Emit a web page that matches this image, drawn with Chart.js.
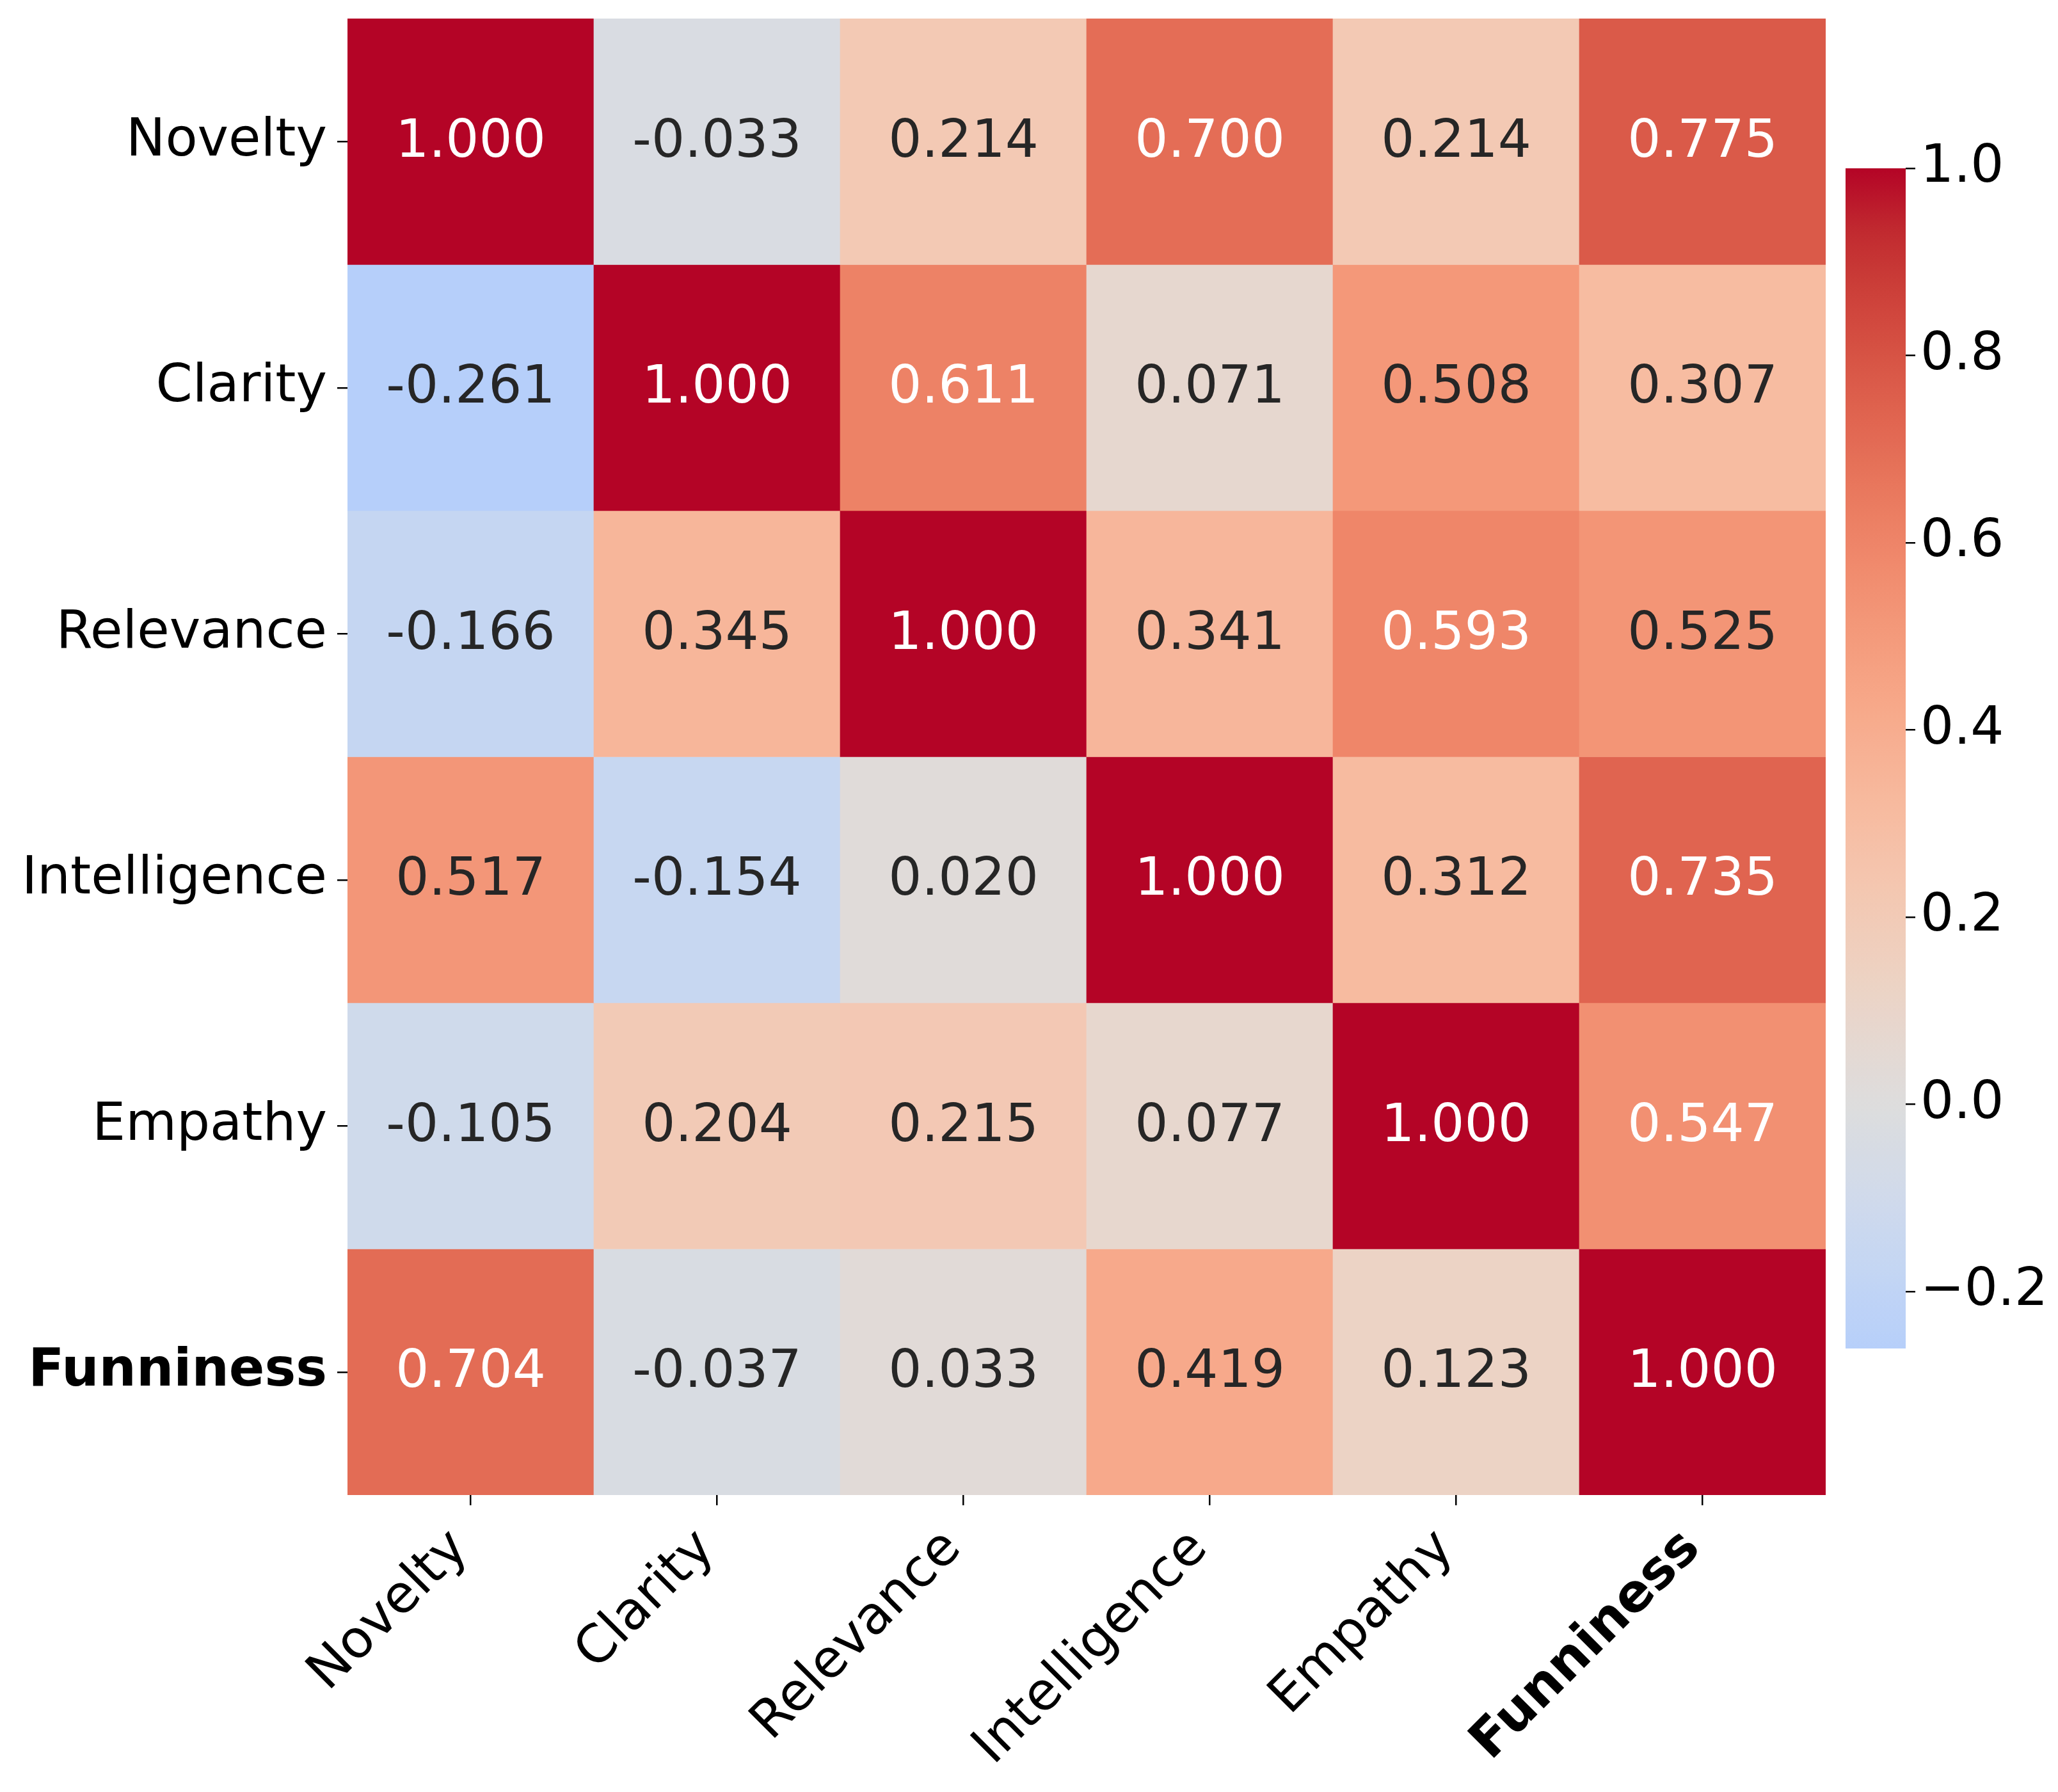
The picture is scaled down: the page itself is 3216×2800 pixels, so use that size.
<!DOCTYPE html>
<html>
<head>
<meta charset="utf-8">
<script src="https://cdn.jsdelivr.net/npm/chart.js@4"></script>
<style>
  html, body { margin: 0; padding: 0; background: #fff; }
  #wrap { position: relative; width: 3216px; height: 2800px; }
  #heat { position: absolute; left: 0; top: 0; width: 3216px; height: 2800px; }
  #cbar { position: absolute; left: 2884px; top: 163px; width: 344px; height: 2044px; }
</style>
</head>
<body>
<div id="wrap">
  <canvas id="heat" width="3216" height="2800"></canvas>
  <canvas id="cbar" width="344" height="2044"></canvas>
</div>
<script>
(function() {

    const names = ['Novelty', 'Clarity', 'Relevance', 'Intelligence', 'Empathy', 'Funniness'];

    // one row of the correlation matrix each
    const novelty      = [ 1.000, -0.033, 0.214, 0.700, 0.214, 0.775];
    const clarity      = [-0.261,  1.000, 0.611, 0.071, 0.508, 0.307];
    const relevance    = [-0.166,  0.345, 1.000, 0.341, 0.593, 0.525];
    const intelligence = [ 0.517, -0.154, 0.020, 1.000, 0.312, 0.735];
    const empathy      = [-0.105,  0.204, 0.215, 0.077, 1.000, 0.547];
    const funniness    = [ 0.704, -0.037, 0.033, 0.419, 0.123, 1.000];

    const cbTicks = [-0.2, 0.0, 0.2, 0.4, 0.6, 0.8, 1.0];

    const matrix = [novelty, clarity, relevance, intelligence, empathy, funniness];
    const vmin = Math.min(...matrix.flat());
    const vmax = Math.max(...matrix.flat());
    const vrange = Math.max(vmax, -vmin);   // centred on 0

    // coolwarm colormap anchors
    const cw = [
        [59,76,192],[68,90,204],[77,104,215],[87,117,225],[98,130,234],[108,142,241],
        [119,154,247],[130,165,251],[141,176,254],[152,185,255],[163,194,255],[174,201,253],
        [184,208,249],[194,213,244],[204,217,238],[213,219,230],[221,221,221],[229,216,209],
        [236,211,197],[241,204,185],[245,196,173],[247,187,160],[247,177,148],[247,166,135],
        [244,154,123],[241,141,111],[236,127,99],[229,112,88],[222,96,77],[213,80,66],
        [203,62,56],[192,40,47],[180,4,38]
    ];

    function coolwarm(t) {
        t = Math.max(0, Math.min(1, t));
        const f = t * (cw.length - 1);
        const i = Math.min(Math.floor(f), cw.length - 2);
        const r = f - i;
        return cw[i].map((c, k) => c + (cw[i + 1][k] - c) * r);
    }

    function cellRgb(v) {
        return coolwarm((v + vrange) / (2 * vrange));
    }

    function css(rgb) {
        return 'rgb(' + rgb.map(Math.round).join(',') + ')';
    }

    function textColor(v) {
        const lin = cellRgb(v).map(x => {
            x = x / 255;
            return x <= 0.03928 ? x / 12.92 : Math.pow((x + 0.055) / 1.055, 2.4);
        });
        const lum = 0.2126 * lin[0] + 0.7152 * lin[1] + 0.0722 * lin[2];
        return lum > 0.408 ? '#262626' : '#ffffff';
    }

    const font = 'DejaVu Sans';
    const labelFont = ctx => ({ family: font, size: 82, weight: ctx.index === 5 ? 'bold' : 'normal' });

    const cellText = {
        id: 'cellText',
        afterDatasetsDraw(chart) {
            const c = chart.ctx;
            c.save();
            c.font = '82px "' + font + '"';
            c.textAlign = 'center';
            c.textBaseline = 'middle';
            chart.data.datasets.forEach((ds, i) => {
                chart.getDatasetMeta(i).data.forEach((bar, j) => {
                    const v = matrix[i][j];
                    const p = bar.getCenterPoint();
                    c.fillStyle = textColor(v);
                    c.fillText(v.toFixed(3), p.x, p.y + 2);
                });
            });
            c.restore();
        }
    };

    new Chart(document.getElementById('heat'), {
        type: 'bar',
        data: {
            labels: names,
            datasets: matrix.map((row, i) => ({
                label: names[i],
                data: row.map(() => 1),
                backgroundColor: row.map(v => css(cellRgb(v))),
                borderWidth: 0,
                barPercentage: 1,
                categoryPercentage: 1
            }))
        },
        options: {
            responsive: false,
            animation: false,
            devicePixelRatio: 1,
            layout: { padding: { top: 29, right: 363, left: 0, bottom: 0 } },
            plugins: { legend: { display: false }, tooltip: { enabled: false } },
            scales: {
                x: {
                    stacked: true,
                    grid: { drawOnChartArea: false, offset: false, tickLength: 16, color: '#000', lineWidth: 2.5 },
                    border: { display: false },
                    ticks: { minRotation: 45, maxRotation: 45, autoSkip: false, padding: 20, labelOffset: -16,
                             color: '#000', font: labelFont },
                    afterFit: s => { s.height = 464; s.paddingLeft = 0; s.paddingRight = 0; }
                },
                y: {
                    type: 'linear',
                    stacked: true,
                    reverse: true,
                    min: 0,
                    max: names.length,
                    afterBuildTicks: s => { s.ticks = names.map((n, i) => ({ value: i + 0.5 })); },
                    grid: { drawOnChartArea: false, tickLength: 16, color: '#000', lineWidth: 2.5 },
                    border: { display: false },
                    ticks: { autoSkip: false, padding: 16, color: '#000', font: labelFont,
                             callback: v => names[Math.floor(v)] },
                    afterFit: s => { s.width = 543; s.paddingTop = 0; s.paddingBottom = 0; }
                }
            }
        },
        plugins: [cellText]
    });

    // colour bar
    new Chart(document.getElementById('cbar'), {
        type: 'bar',
        data: {
            labels: [''],
            datasets: [{
                data: [[vmin, vmax]],
                borderWidth: 0,
                borderSkipped: false,
                inflateAmount: 0,
                barPercentage: 1,
                categoryPercentage: 1,
                backgroundColor: ctx => {
                    const a = ctx.chart.chartArea;
                    if (!a) return null;
                    const g = ctx.chart.ctx.createLinearGradient(0, a.bottom, 0, a.top);
                    for (let k = 0; k <= 60; k++) {
                        g.addColorStop(k / 60, css(cellRgb(vmin + (vmax - vmin) * k / 60)));
                    }
                    return g;
                }
            }]
        },
        options: {
            responsive: false,
            animation: false,
            devicePixelRatio: 1,
            layout: { padding: { top: 100, bottom: 100, left: 0, right: 0 } },
            plugins: { legend: { display: false }, tooltip: { enabled: false } },
            scales: {
                x: { display: false },
                y: {
                    position: 'right',
                    min: vmin,
                    max: vmax,
                    afterBuildTicks: s => { s.ticks = cbTicks.map(v => ({ value: v })); },
                    grid: { drawOnChartArea: false, tickLength: 15, color: '#000', lineWidth: 2.5 },
                    border: { display: false },
                    ticks: { padding: 8, color: '#000', font: { family: font, size: 82 },
                             callback: v => (v < -1e-9 ? '\u2212' : '') + Math.abs(v).toFixed(1) },
                    afterFit: s => { s.width = 250; s.paddingTop = 0; s.paddingBottom = 0; }
                }
            }
        }
    });
})();
</script>
</body>
</html>
